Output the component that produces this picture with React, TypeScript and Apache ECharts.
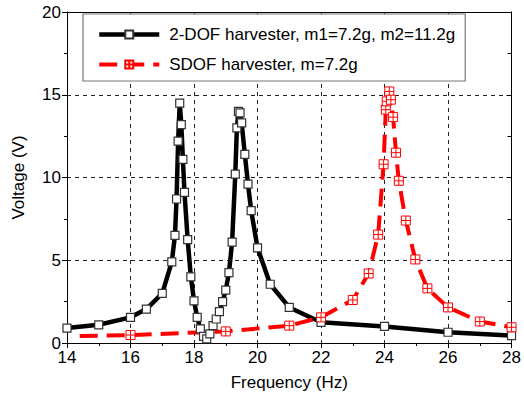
import React, { useEffect, useRef } from "react";
import * as echarts from "echarts";

const FONT = "Liberation Sans, Arial, sans-serif";

const dofName = "2-DOF harvester, m1=7.2g, m2=11.2g";
const sdofName = "SDOF harvester, m=7.2g";

const dofFreq = [14, 15, 16, 16.5, 17, 17.3, 17.4, 17.45, 17.5, 17.55, 17.6, 17.65, 17.7, 17.8, 17.9, 18.0, 18.1, 18.2, 18.3, 18.4, 18.5, 18.6, 18.7, 18.8, 18.9, 19.0, 19.1, 19.2, 19.3, 19.35, 19.4, 19.45, 19.5, 19.6, 19.7, 19.8, 20.0, 20.4, 21, 22, 24, 26, 28];
const dofVolt = [0.9, 1.1, 1.55, 2.05, 3.0, 4.9, 6.5, 8.7, 12.2, 14.5, 13.2, 11.1, 9.1, 6.25, 4.0, 2.55, 1.55, 0.85, 0.4, 0.25, 0.55, 1.05, 1.45, 1.9, 2.5, 3.2, 4.25, 6.1, 10.2, 13.0, 14.0, 13.9, 13.3, 11.4, 9.6, 8.0, 5.75, 3.55, 2.15, 1.25, 1.0, 0.65, 0.45];

const sdofFreq = [14.4, 16, 19, 21, 22, 23, 23.5, 23.8, 23.97, 24.04, 24.07, 24.15, 24.2, 24.27, 24.36, 24.45, 24.67, 24.97, 25.35, 26, 27, 28];
const sdofVolt = [0.42, 0.48, 0.7, 1.05, 1.55, 2.6, 4.2, 6.55, 10.8, 14.1, 14.6, 15.2, 14.7, 13.65, 11.5, 9.8, 7.4, 5.05, 3.3, 2.15, 1.3, 0.95];
// first SDOF point drawn without a marker (as in the reference)
const sdofNoMarker = [true, false, false, false, false, false, false, false, false, false, false, false, false, false, false, false, false, false, false, false, false, false];

const xTicks = [14, 16, 18, 20, 22, 24, 26, 28];
const yTicks = [0, 5, 10, 15, 20];

const squarePlus = "path://M0,0H10V10H0Z M5,0V10 M0,5H10";

export default function App() {
  const ref = useRef<HTMLDivElement>(null);
  useEffect(() => {
    if (!ref.current) return;
    const chart = echarts.init(ref.current, null, { renderer: "svg" });
    const axisCommon = {
      axisLine: { show: true, onZero: false, lineStyle: { color: "#000", width: 1 } },
    };
    const option = {
      animation: false,
      backgroundColor: "#fff",
      textStyle: { fontFamily: FONT },
      grid: { left: 67, right: 10, top: 12, bottom: 52 },
      legend: {
        orient: "vertical",
        left: 83,
        top: 14,
        padding: [12, 10, 8, 14],
        itemGap: 13,
        itemWidth: 60,
        itemHeight: 10,
        backgroundColor: "#fff",
        borderColor: "#777",
        borderWidth: 1.2,
        textStyle: { fontSize: 17, color: "#000", fontFamily: FONT, padding: [0, 0, 0, 5] },
        data: [
          { name: dofName, lineStyle: { width: 4.5, color: "#000" } },
          { name: sdofName, lineStyle: { width: 4, color: "#ff0000", type: [18, 9] } },
        ],
      },
      xAxis: [
        {
          type: "value",
          min: xTicks[0],
          max: xTicks[xTicks.length - 1],
          interval: 2,
          position: "bottom",
          ...axisCommon,
          axisTick: { show: true, length: 5, inside: false, lineStyle: { color: "#000" } },
          minorTick: { show: true, splitNumber: 2, length: 3, lineStyle: { color: "#000" } },
          axisLabel: { fontSize: 17, color: "#000", fontFamily: FONT, margin: 6 },
          splitLine: { show: true, lineStyle: { type: [4, 4], color: "#222", width: 1 } },
          name: "Frequency (Hz)",
          nameLocation: "middle",
          nameGap: 31,
          nameTextStyle: { fontSize: 17, color: "#000", fontFamily: FONT },
        },
        {
          type: "value",
          min: xTicks[0],
          max: xTicks[xTicks.length - 1],
          interval: 2,
          position: "top",
          ...axisCommon,
          axisTick: { show: true, length: 5, inside: true, lineStyle: { color: "#000" } },
          axisLabel: { show: false },
          splitLine: { show: false },
        },
      ],
      yAxis: [
        {
          type: "value",
          min: yTicks[0],
          max: yTicks[yTicks.length - 1],
          interval: 5,
          position: "left",
          ...axisCommon,
          axisTick: { show: true, length: 5, inside: false, lineStyle: { color: "#000" } },
          minorTick: { show: true, splitNumber: 2, length: 3, lineStyle: { color: "#000" } },
          axisLabel: { fontSize: 17, color: "#000", fontFamily: FONT, margin: 6 },
          splitLine: { show: true, lineStyle: { type: [4, 4], color: "#222", width: 1 } },
          name: "Voltage (V)",
          nameLocation: "middle",
          nameGap: 40,
          nameTextStyle: { fontSize: 17, color: "#000", fontFamily: FONT },
        },
        {
          type: "value",
          min: yTicks[0],
          max: yTicks[yTicks.length - 1],
          interval: 5,
          position: "right",
          ...axisCommon,
          axisTick: { show: true, length: 5, inside: true, lineStyle: { color: "#000" } },
          minorTick: { show: true, splitNumber: 2, length: 4, lineStyle: { color: "#000" } },
          axisLabel: { show: false },
          splitLine: { show: false },
        },
      ],
      series: [
        {
          name: dofName,
          type: "line",
          xAxisIndex: 0,
          yAxisIndex: 0,
          data: dofFreq.map((f, i) => [f, dofVolt[i]]),
          symbol: "rect",
          symbolSize: 8,
          showAllSymbol: true,
          lineStyle: { color: "#000", width: 4.5 },
          itemStyle: { color: "#fff", borderColor: "#333", borderWidth: 1.2 },
          emphasis: { disabled: true },
        },
        {
          name: sdofName,
          type: "line",
          xAxisIndex: 0,
          yAxisIndex: 0,
          data: sdofFreq.map((f, i) =>
            sdofNoMarker[i] ? { value: [f, sdofVolt[i]], symbol: "none" } : [f, sdofVolt[i]]
          ),
          symbol: squarePlus,
          symbolSize: 9,
          showAllSymbol: true,
          lineStyle: { color: "#ff0000", width: 4, type: [18, 9] },
          itemStyle: { color: "#fff", borderColor: "#ff0000", borderWidth: 1 },
          emphasis: { disabled: true },
        },
      ],
    };
    chart.setOption(option as any);
    return () => chart.dispose();
  }, []);
  return (
    <div
      ref={ref}
      style={{ position: "absolute", left: 0, top: 0, width: 524, height: 396 }}
    />
  );
}
